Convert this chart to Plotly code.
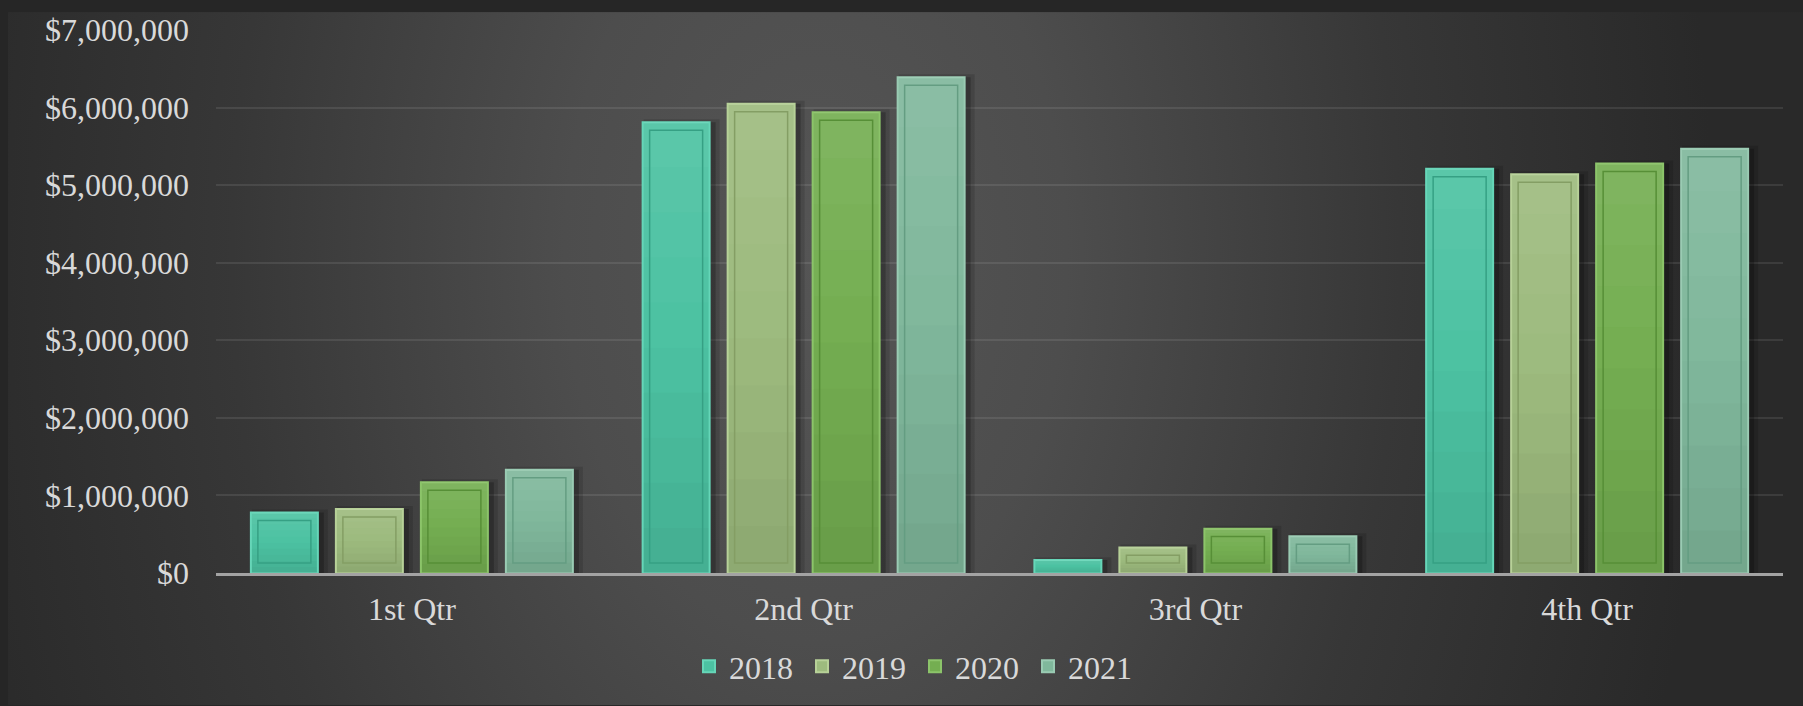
import base64
import plotly.graph_objects as go

# ---- data ----
quarters = ["1st Qtr", "2nd Qtr", "3rd Qtr", "4th Qtr"]
years = ["2018", "2019", "2020", "2021"]
sales_2018 = [780000, 5810000, 166000, 5210000]
sales_2019 = [825000, 6050000, 330000, 5140000]
sales_2020 = [1170000, 5940000, 572000, 5280000]
sales_2021 = [1330000, 6390000, 473000, 5470000]
y_ticks = [0, 1000000, 2000000, 3000000, 4000000, 5000000, 6000000, 7000000]
y_tick_labels = ["$" + f"{v:,}" for v in y_ticks]

series = [sales_2018, sales_2019, sales_2020, sales_2021]

# ---- styles ----
fill = ["#4cc2a2", "#9dbb7e", "#74ae51", "#80b89c"]
rim = ["#66d6b8", "#b7d198", "#8cc46a", "#9acbb3"]
inner_line = ["#36a084", "#849e64", "#578f37", "#649d82"]

W, H = 1803, 706
L, R, T, B = 216, 20, 27, 133
PW, PH = W - L - R, H - T - B
cat_px = PW / 4.0
slot = 85 / cat_px
barw = 67 / cat_px
inset_x = 7 / cat_px
px_per_val = PH / 7000000.0
inset_top = 8 / px_per_val
inset_bot = 10 / px_per_val
FONT = "Liberation Serif, Times New Roman, serif"
TXT = "#d9d9d9"
NBANDS = 10

fig = go.Figure()

offsets = [(-2 + i) * slot + (slot - barw) / 2 for i in range(4)]

# shadows
for i, vals in enumerate(series):
    fig.add_trace(go.Bar(x=quarters, y=[v + 3 / px_per_val for v in vals], offset=offsets[i] + 1 / cat_px,
                         width=barw + 9 / cat_px, marker=dict(color="rgba(0,0,0,0.13)", line=dict(width=0)),
                         showlegend=False, hoverinfo="skip"))
    fig.add_trace(go.Bar(x=quarters, y=vals, offset=offsets[i] + 2 / cat_px,
                         width=barw + 4 / cat_px, marker=dict(color="rgba(0,0,0,0.22)", line=dict(width=0)),
                         showlegend=False, hoverinfo="skip"))

# outer bars
for i, vals in enumerate(series):
    fig.add_trace(go.Bar(x=quarters, y=vals, name=years[i], offset=offsets[i], width=barw,
                         marker=dict(color=fill[i], line=dict(color=rim[i], width=2))))

# vertical shading (lighter top, darker bottom) as translucent bands relative to each bar's height
for i, vals in enumerate(series):
    for k in range(NBANDS):
        t = (k + 0.5) / NBANDS  # 0 bottom -> 1 top
        a = (t - 0.5) * 2
        col = f"rgba(255,255,255,{0.09 * a:.3f})" if a > 0 else f"rgba(0,0,0,{-0.10 * a:.3f})"
        fig.add_trace(go.Bar(x=quarters, y=[v / NBANDS for v in vals], base=[v * k / NBANDS for v in vals],
                             offset=offsets[i] + 1 / cat_px, width=barw - 2 / cat_px,
                             marker=dict(color=col, line=dict(width=0)),
                             showlegend=False, hoverinfo="skip"))

# inner bevel panels
for i, vals in enumerate(series):
    h = [v - inset_top - inset_bot if v - inset_top - inset_bot > 0 else None for v in vals]
    fig.add_trace(go.Bar(x=quarters, y=h, base=inset_bot, offset=offsets[i] + inset_x,
                         width=barw - 2 * inset_x,
                         marker=dict(color="rgba(0,0,0,0)", line=dict(color=inner_line[i], width=1.5)),
                         showlegend=False, hoverinfo="skip"))

# background gradient as an SVG image
svg = (
    '<svg xmlns="http://www.w3.org/2000/svg" width="1795" height="697" viewBox="0 0 1795 697" '
    'preserveAspectRatio="none"><defs>'
    '<radialGradient id="g" cx="0.45" cy="0.35" r="0.5" '
    'gradientTransform="translate(0.45,0.35) scale(1,4) translate(-0.45,-0.35)">'
    '<stop offset="0" stop-color="#555555"/>'
    '<stop offset="0.28" stop-color="#4d4d4d"/>'
    '<stop offset="0.65" stop-color="#373737"/>'
    '<stop offset="1" stop-color="#292929"/>'
    '</radialGradient></defs>'
    '<rect x="0" y="0" width="1795" height="697" fill="url(#g)"/></svg>'
)
src = "data:image/svg+xml;base64," + base64.b64encode(svg.encode()).decode()
fig.add_layout_image(dict(source=src, xref="paper", yref="paper",
                          x=(8 - L) / PW, y=1 + (T - 9) / PH,
                          sizex=(W - 8) / PW, sizey=(H - 9) / PH,
                          xanchor="left", yanchor="top", sizing="stretch", layer="below"))

fig.update_layout(
    width=W, height=H,
    margin=dict(l=L, r=R, t=T, b=B, pad=0),
    paper_bgcolor="#262626", plot_bgcolor="rgba(0,0,0,0)",
    barmode="overlay",
    font=dict(family=FONT, color=TXT, size=32),
    showlegend=True,
    legend=dict(orientation="h", x=(915 - L) / PW, xanchor="center",
                y=-(667 - (H - B)) / PH, yanchor="middle",
                font=dict(family=FONT, size=32, color=TXT), bgcolor="rgba(0,0,0,0)",
                traceorder="normal", entrywidth=68, entrywidthmode="pixels"),
    xaxis=dict(type="category", categoryorder="array", categoryarray=quarters, range=[-0.5, 3.5],
               showgrid=False, showline=True, linecolor="#a3a3a3", linewidth=2.5,
               ticks="outside", ticklen=6, tickcolor="rgba(0,0,0,0)",
               tickfont=dict(family=FONT, size=32, color=TXT), zeroline=False),
    yaxis=dict(range=[0, 7000000], tickvals=y_ticks, ticktext=y_tick_labels,
               showgrid=True, gridcolor="rgba(255,255,255,0.09)", gridwidth=1.5,
               zeroline=False, showline=False, ticks="", ticklabelstandoff=26,
               tickfont=dict(family=FONT, size=32, color=TXT)),
)

fig.write_html("out.html", config={"displayModeBar": False},
               post_script="document.body.style.margin='0';document.body.style.background='#262626';")
